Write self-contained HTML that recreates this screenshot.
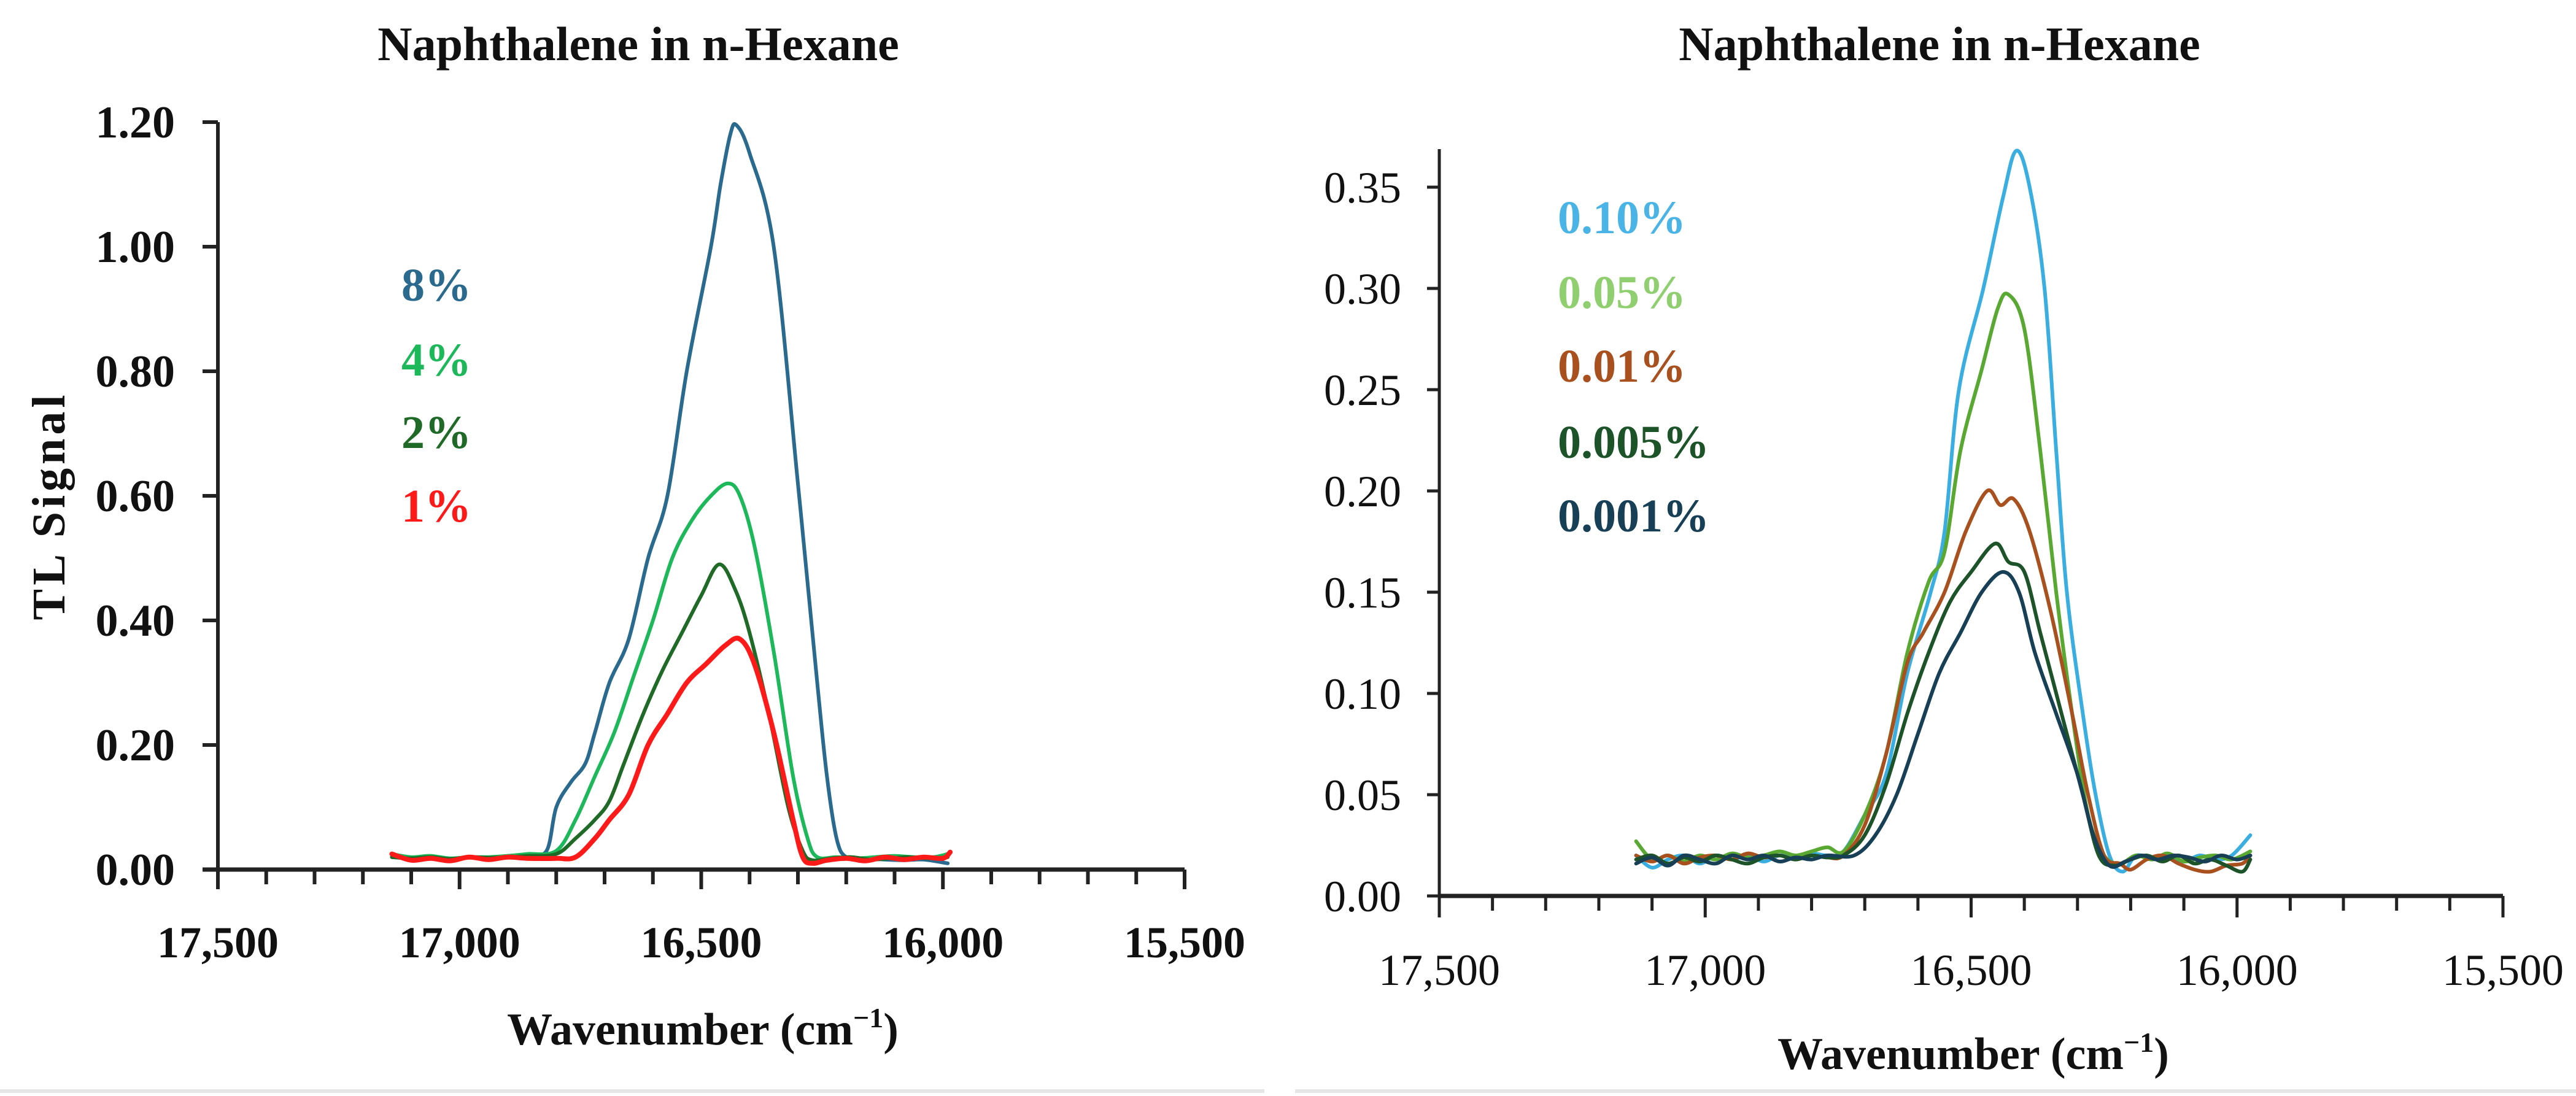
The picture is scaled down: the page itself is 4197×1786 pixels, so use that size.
<!DOCTYPE html>
<html><head><meta charset="utf-8">
<style>
html,body{margin:0;padding:0;background:#fff;}
svg{display:block;}
text{font-family:"Liberation Serif",serif;}
</style></head>
<body>
<svg id="chart" width="4197" height="1786" viewBox="0 0 4197 1786" xmlns="http://www.w3.org/2000/svg">
<rect width="4197" height="1786" fill="#fff"/>
<line x1="0" y1="1778" x2="2060" y2="1778" stroke="#e6e6e6" stroke-width="6"/>
<line x1="2110" y1="1778" x2="4197" y2="1778" stroke="#e6e6e6" stroke-width="6"/>
<g id="left"></g>
<g id="right"></g>
</svg>
<script>
// ---- Left chart data ----
const leftYTicks = [0, 0.2, 0.4, 0.6, 0.8, 1.0, 1.2];
const leftYTickLabels = ["0.00","0.20","0.40","0.60","0.80","1.00","1.20"];
const xTicks = [17500, 17000, 16500, 16000, 15500];
const xTickLabels = ["17,500","17,000","16,500","16,000","15,500"];
const leftSeriesNames = ["8%","4%","2%","1%"];
const leftX8 = [17140,17100,17060,17020,16980,16940,16900,16860,16820,16800,16770,16740,16720,16690,16650,16610,16570,16530,16480,16460,16440,16427,16400,16350,16300,16260,16240,16220,16200,16160,16120,16080,16040,15990];
const leftY8 = [0.02,0.018,0.02,0.017,0.02,0.019,0.022,0.024,0.03,0.10,0.14,0.17,0.22,0.30,0.37,0.50,0.60,0.80,1.00,1.10,1.18,1.195,1.15,1.00,0.62,0.30,0.15,0.05,0.02,0.018,0.016,0.015,0.016,0.01];
const leftX4 = [17140,17100,17060,17020,16980,16940,16900,16860,16800,16760,16720,16680,16640,16600,16560,16520,16480,16445,16420,16390,16350,16310,16280,16260,16220,16180,16140,16100,16060,16020,15990];
const leftY4 = [0.025,0.02,0.022,0.018,0.02,0.02,0.022,0.025,0.03,0.08,0.15,0.22,0.31,0.40,0.50,0.56,0.60,0.62,0.60,0.52,0.35,0.15,0.05,0.02,0.02,0.018,0.02,0.022,0.02,0.02,0.025];
const leftX2 = [17140,17100,17060,17020,16980,16940,16900,16860,16800,16760,16720,16690,16660,16620,16580,16540,16500,16463,16430,16400,16360,16320,16290,16270,16230,16190,16150,16110,16070,16030,15990];
const leftY2 = [0.02,0.018,0.02,0.017,0.02,0.019,0.02,0.022,0.025,0.05,0.08,0.11,0.17,0.25,0.32,0.38,0.44,0.49,0.45,0.38,0.25,0.10,0.03,0.015,0.018,0.02,0.016,0.018,0.02,0.018,0.02];
const leftX1 = [17140,17100,17060,17020,16980,16940,16900,16860,16800,16760,16720,16690,16650,16610,16570,16530,16490,16450,16420,16390,16350,16310,16290,16270,16240,16200,16160,16120,16080,16040,16000,15985];
const leftY1 = [0.025,0.015,0.018,0.014,0.02,0.016,0.02,0.018,0.018,0.02,0.05,0.08,0.12,0.20,0.25,0.30,0.33,0.36,0.37,0.33,0.22,0.08,0.02,0.01,0.015,0.018,0.014,0.02,0.016,0.02,0.018,0.028];
// ---- Right chart data ----
const rightYTicks = [0,0.05,0.10,0.15,0.20,0.25,0.30,0.35];
const rightYTickLabels = ["0.00","0.05","0.10","0.15","0.20","0.25","0.30","0.35"];
const rightSeriesNames = ["0.10%","0.05%","0.01%","0.005%","0.001%"];
const rightXa = [17130,17100,17070,17040,17010,16980,16950,16920,16890,16860,16830,16800,16770,16740,16700,16660,16620,16576,16550,16523,16477,16440,16415,16390,16362,16340,16320,16290,16266,16240,16215,16190,16160,16130,16100,16070,16040,16010,15975];
const rightYa = [0.02,0.014,0.018,0.02,0.016,0.02,0.018,0.02,0.017,0.02,0.019,0.021,0.02,0.022,0.04,0.06,0.11,0.15,0.18,0.25,0.30,0.345,0.368,0.35,0.30,0.22,0.15,0.09,0.05,0.02,0.012,0.02,0.018,0.02,0.017,0.02,0.018,0.02,0.03];
const rightXb = [17130,17100,17070,17040,17010,16980,16950,16920,16890,16860,16830,16800,16770,16740,16700,16660,16620,16580,16550,16520,16480,16450,16430,16400,16370,16340,16310,16280,16250,16220,16190,16160,16130,16100,16070,16040,16010,15975];
const rightYb = [0.027,0.018,0.02,0.017,0.02,0.018,0.021,0.019,0.02,0.022,0.02,0.022,0.024,0.022,0.04,0.07,0.12,0.155,0.17,0.22,0.26,0.29,0.297,0.28,0.22,0.15,0.09,0.04,0.02,0.016,0.02,0.018,0.021,0.017,0.019,0.02,0.018,0.022];
const rightXc = [17130,17100,17070,17040,17010,16980,16950,16920,16890,16860,16830,16800,16770,16740,16700,16660,16620,16590,16550,16510,16470,16445,16420,16390,16350,16310,16280,16250,16220,16200,16170,16140,16110,16080,16050,16020,15990,15975];
const rightYc = [0.02,0.017,0.02,0.016,0.019,0.02,0.018,0.021,0.019,0.02,0.018,0.02,0.019,0.02,0.035,0.07,0.115,0.13,0.15,0.18,0.20,0.193,0.196,0.18,0.14,0.09,0.05,0.02,0.016,0.013,0.018,0.02,0.016,0.013,0.012,0.015,0.016,0.02];
const rightXd = [17130,17100,17070,17040,17010,16980,16950,16920,16890,16860,16830,16800,16770,16740,16700,16660,16620,16580,16540,16500,16455,16430,16400,16370,16330,16290,16260,16230,16200,16170,16140,16110,16080,16050,16020,15990,15975];
const rightYd = [0.018,0.02,0.016,0.019,0.017,0.02,0.018,0.016,0.019,0.02,0.018,0.02,0.019,0.02,0.03,0.055,0.09,0.12,0.145,0.16,0.174,0.165,0.16,0.13,0.09,0.05,0.02,0.015,0.018,0.02,0.017,0.02,0.016,0.018,0.015,0.012,0.018];
const rightXe = [17130,17100,17070,17040,17010,16980,16950,16920,16890,16860,16830,16800,16770,16720,16680,16640,16600,16560,16520,16480,16440,16410,16380,16340,16300,16270,16240,16210,16180,16150,16120,16090,16060,16030,16000,15975];
const rightYe = [0.016,0.019,0.015,0.02,0.018,0.016,0.02,0.018,0.02,0.017,0.019,0.018,0.02,0.02,0.03,0.05,0.08,0.11,0.13,0.15,0.16,0.15,0.12,0.09,0.06,0.03,0.015,0.017,0.02,0.018,0.02,0.019,0.017,0.02,0.018,0.02];

const NS = "http://www.w3.org/2000/svg";
function mk(parent, tag, attrs){const e=document.createElementNS(NS,tag);for(const k in attrs)e.setAttribute(k,attrs[k]);parent.appendChild(e);return e;}
function linScale(d0,d1,r0,r1){return v=>r0+(v-d0)/(d1-d0)*(r1-r0);}
function smoothPath(pts){
  let d="M"+pts[0][0].toFixed(1)+","+pts[0][1].toFixed(1);
  for(let i=0;i<pts.length-1;i++){
    const p0=pts[Math.max(0,i-1)],p1=pts[i],p2=pts[i+1],p3=pts[Math.min(pts.length-1,i+2)];
    const c1x=p1[0]+(p2[0]-p0[0])/6,c1y=p1[1]+(p2[1]-p0[1])/6;
    const c2x=p2[0]-(p3[0]-p1[0])/6,c2y=p2[1]-(p3[1]-p1[1])/6;
    d+="C"+c1x.toFixed(1)+","+c1y.toFixed(1)+" "+c2x.toFixed(1)+","+c2y.toFixed(1)+" "+p2[0].toFixed(1)+","+p2[1].toFixed(1);
  }
  return d;
}

// ---------- LEFT ----------
(function(){
  const g=document.getElementById('left');
  const xs=linScale(17500,15500,355,1930);
  const ys=linScale(0,1.2,1417,199);
  let t=mk(g,'text',{x:1040,y:98,'text-anchor':'middle','font-size':78,'font-weight':'bold',fill:'#111'});
  t.textContent="Naphthalene in n-Hexane";
  
  
  let a=mk(g,'line',{x1:xs(17500),y1:ys(1.2),x2:xs(17500),y2:1447,stroke:'#222','stroke-width':6});
  
  
  leftYTicks.forEach((v,i)=>{
    const tk=mk(g,'line',{x1:xs(17500)-25,y1:ys(v),x2:xs(17500),y2:ys(v),stroke:'#222','stroke-width':6});
    
    
    const lb=mk(g,'text',{x:285,y:ys(v)+25,'text-anchor':'end','font-size':74,'font-weight':'bold',fill:'#111'});
    lb.textContent=leftYTickLabels[i];
    
    
  });
  let xa=mk(g,'line',{x1:330,y1:ys(0),x2:xs(15500),y2:ys(0),stroke:'#222','stroke-width':7});
  
  
  for(let w=17500;w>=15500;w-=100){
    const major=(w%500===0);
    const tk=mk(g,'line',{x1:xs(w),y1:ys(0),x2:xs(w),y2:ys(0)+(major?32:24),stroke:'#222','stroke-width':6});
    
    
  }
  xTicks.forEach((v,i)=>{
    const lb=mk(g,'text',{x:xs(v),y:1560,'text-anchor':'middle','font-size':72,'font-weight':'bold',fill:'#111'});
    lb.textContent=xTickLabels[i];
    
    
  });
  let xt=mk(g,'text',{x:1145,y:1702,'text-anchor':'middle','font-size':74,'font-weight':'bold',fill:'#111'});
  xt.innerHTML='Wavenumber (cm<tspan dy="-28" font-size="46">−1</tspan><tspan dy="28">)</tspan>';
  
  
  let yt=mk(g,'text',{x:0,y:0,'text-anchor':'middle','font-size':76,'font-weight':'bold',fill:'#111','letter-spacing':6,transform:'translate(105,824) rotate(-90)'});
  yt.textContent="TL Signal";
  
  
  const series=[[leftX8,leftY8,'#2a6a8e'],[leftX4,leftY4,'#1cb85a'],[leftX2,leftY2,'#1f6a26'],[leftX1,leftY1,'#ff1a1a']];
  const names=['series-8-percent','series-4-percent','series-2-percent','series-1-percent'];
  series.forEach((s,i)=>{
    const pts=s[0].map((w,j)=>[xs(w),ys(s[1][j])]);
    const p=mk(g,'path',{d:smoothPath(pts),fill:'none',stroke:s[2],'stroke-width':i===3?8:6,'stroke-linejoin':'round','stroke-linecap':'round'});
    
    
  });
  const legY=[490,612,730,850];
  const legC=['#2a6a8e','#1cb85a','#1f6a26','#ff1a1a'];
  leftSeriesNames.forEach((n,i)=>{
    const lb=mk(g,'text',{x:654,y:legY[i],'font-size':76,'font-weight':'bold',fill:legC[i]});
    lb.textContent=n;
    
    
  });
})();

// ---------- RIGHT ----------
(function(){
  const g=document.getElementById('right');
  const xs=linScale(17500,15500,2345,4078);
  const ys=linScale(0,0.35,1460,305);
  let t=mk(g,'text',{x:3160,y:98,'text-anchor':'middle','font-size':78,'font-weight':'bold',fill:'#111'});
  t.textContent="Naphthalene in n-Hexane";
  
  
  let a=mk(g,'line',{x1:xs(17500),y1:243,x2:xs(17500),y2:1495,stroke:'#222','stroke-width':5});
  
  
  rightYTicks.forEach((v,i)=>{
    const tk=mk(g,'line',{x1:xs(17500)-20,y1:ys(v),x2:xs(17500),y2:ys(v),stroke:'#222','stroke-width':5});
    
    
    const lb=mk(g,'text',{x:2283,y:ys(v)+25,'text-anchor':'end','font-size':72,fill:'#111'});
    lb.textContent=rightYTickLabels[i];
    
    
  });
  let xa=mk(g,'line',{x1:xs(17500),y1:ys(0),x2:xs(15500),y2:ys(0),stroke:'#222','stroke-width':7});
  
  
  for(let w=17500;w>=15500;w-=100){
    const major=(w%500===0);
    const tk=mk(g,'line',{x1:xs(w),y1:ys(0),x2:xs(w),y2:ys(0)+(major?35:24),stroke:'#222','stroke-width':5});
    
    
  }
  xTicks.forEach((v,i)=>{
    const lb=mk(g,'text',{x:xs(v),y:1605,'text-anchor':'middle','font-size':72,fill:'#111'});
    lb.textContent=xTickLabels[i];
    
    
  });
  let xt=mk(g,'text',{x:3215,y:1742,'text-anchor':'middle','font-size':74,'font-weight':'bold',fill:'#111'});
  xt.innerHTML='Wavenumber (cm<tspan dy="-28" font-size="46">−1</tspan><tspan dy="28">)</tspan>';
  
  
  const series=[[rightXa,rightYa,'#3aaee0'],[rightXb,rightYb,'#58a832'],[rightXc,rightYc,'#a9501f'],[rightXd,rightYd,'#1d5328'],[rightXe,rightYe,'#173f55']];
  const names=['series-0-10-percent','series-0-05-percent','series-0-01-percent','series-0-005-percent','series-0-001-percent'];
  series.forEach((s,i)=>{
    const pts=s[0].map((w,j)=>[xs(w),ys(s[1][j])]);
    const p=mk(g,'path',{d:smoothPath(pts),fill:'none',stroke:s[2],'stroke-width':6,'stroke-linejoin':'round','stroke-linecap':'round'});
    
    
  });
  const legY=[380,502,622,746,866];
  const legC=['#4ab4e6','#8fcf6f','#a9501f','#1d5328','#173f55'];
  rightSeriesNames.forEach((n,i)=>{
    const lb=mk(g,'text',{x:2538,y:legY[i],'font-size':76,'font-weight':'bold',fill:legC[i]});
    lb.textContent=n;
    
    
  });
})();
</script>
</body></html>
